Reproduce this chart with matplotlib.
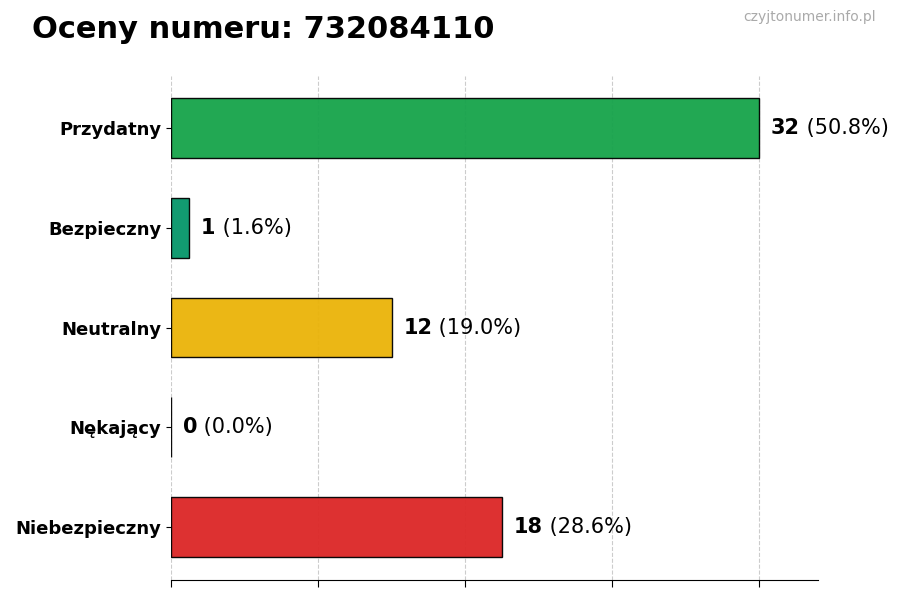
import matplotlib
matplotlib.use("Agg")
import matplotlib.pyplot as plt

categories = ["Przydatny", "Bezpieczny", "Neutralny", "Nękający", "Niebezpieczny"]
counts = [32, 1, 12, 0, 18]
colors = ["#16a34a", "#059669", "#eab308", "#6b7280", "#dc2626"]
title = "Oceny numeru: 732084110"
watermark = "czyjtonumer.info.pl"

total = sum(counts)
fig = plt.figure(figsize=(9, 6), dpi=100)
ax = fig.add_axes([171/900, 1-580/600, (818-171)/900, (580-76)/600])

ypos = list(range(len(categories)))
ax.barh(ypos, counts, height=0.6, color=colors, edgecolor="black", linewidth=1,
        alpha=0.95, zorder=2)
ax.set_yticks(ypos)
ax.set_yticklabels(categories, fontsize=13, fontweight="bold")
ax.set_ylim(4.53, -0.52)
xmax = max(counts)
ax.set_xlim(0, xmax * 1.1)
ax.set_xticks([0, 8, 16, 24, 32])
ax.set_xticklabels([])
ax.tick_params(axis="x", length=5)
ax.grid(axis="x", linestyle="--", color="#cccccc", linewidth=0.8, zorder=0)
ax.set_axisbelow(True)
for s in ["top", "right", "left"]:
    ax.spines[s].set_visible(False)

for y, c in zip(ypos, counts):
    pct = 100 * c / total
    x0 = c + xmax * 0.02
    t = ax.text(x0, y, f"{c}", fontsize=15, fontweight="bold", va="center", ha="left")
    fig.canvas.draw()
    bb = t.get_window_extent()
    inv = ax.transData.inverted()
    xe = inv.transform((bb.x1, 0))[0]
    ax.text(xe, y, f" ({pct:.1f}%)", fontsize=15, va="center", ha="left")

fig.text(32/900, 1-30/600, title, fontsize=22, fontweight="bold", va="center", ha="left")
fig.text(876/900, 1-17/600, watermark, fontsize=10, color="#aaaaaa", va="center", ha="right")

fig.savefig("out.png", dpi=100)
